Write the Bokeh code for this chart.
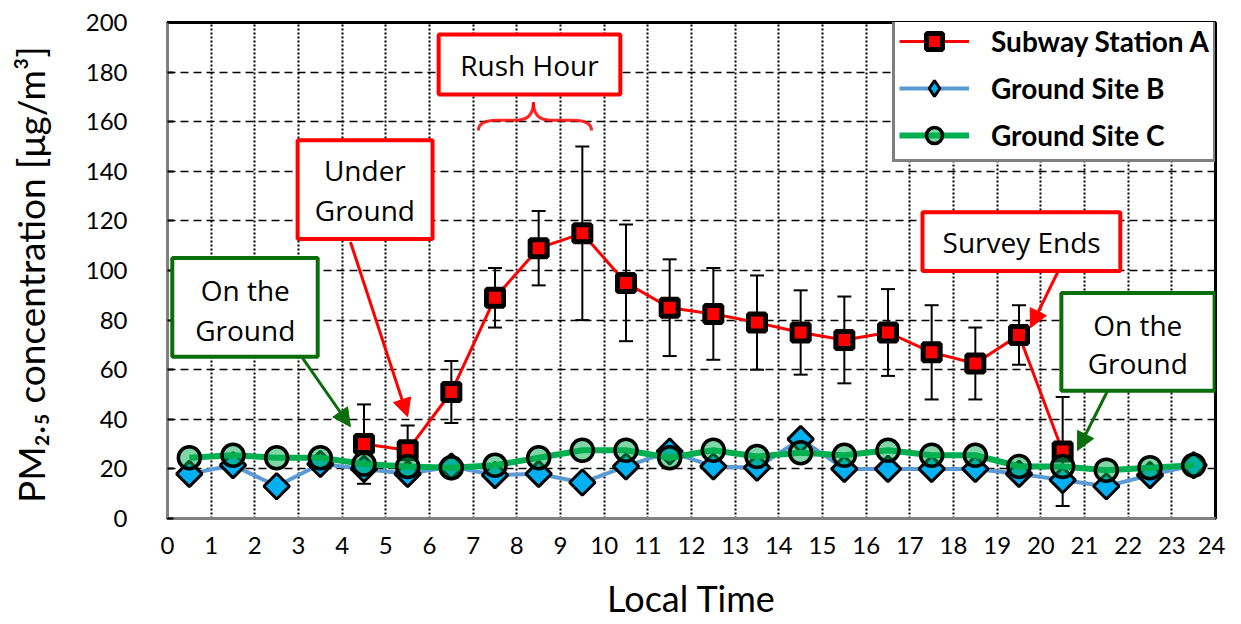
import numpy as np
from bokeh.plotting import figure
from bokeh.models import (ColumnDataSource, Whisker, TeeHead, Legend, LegendItem,
                          BoxAnnotation, Label, Arrow, NormalHead, FixedTicker)
from bokeh.embed import file_html
from bokeh.resources import INLINE

# ---------------- data ----------------
hours_a = [4.5, 5.5, 6.5, 7.5, 8.5, 9.5, 10.5, 11.5, 12.5, 13.5, 14.5, 15.5,
           16.5, 17.5, 18.5, 19.5, 20.5]
subway_a = [30, 27.5, 51, 89, 109, 115, 95, 85, 82.5, 79, 75, 72, 75, 67, 62.5, 74, 27]
subway_err = [16, 10, 12.5, 12, 15, 35, 23.5, 19.5, 18.5, 19, 17, 17.5, 17.5, 19, 14.5, 12, 22]

hours_bc = [0.5, 1.5, 2.5, 3.5, 4.5, 5.5, 6.5, 7.5, 8.5, 9.5, 10.5, 11.5,
            12.5, 13.5, 14.5, 15.5, 16.5, 17.5, 18.5, 19.5, 20.5, 21.5, 22.5, 23.5]
site_b = [18, 21.5, 13, 22, 20, 18, 21, 17.5, 18, 14.5, 21, 27,
          21, 20.5, 32, 20, 20, 20, 20, 18, 15.5, 13, 17.5, 21.5]
site_c = [24.5, 25.5, 24.5, 24.5, 22, 21, 20.5, 21.5, 24.5, 27.5, 27.5, 24.5,
          27.5, 25, 26.5, 25.5, 27.5, 25.5, 25.5, 21, 21, 19.5, 20.5, 21.5]

x_ticks = list(range(0, 25))
y_ticks = list(range(0, 201, 20))

series_names = ["Subway Station A", "Ground Site B", "Ground Site C"]
y_title = "PM\u2082.\u2085  concentration [\u03bcg/m\u00b3]"
x_title = "Local Time"

# ---------------- main figure ----------------
p = figure(width=1225, height=622, x_range=(0, 24), y_range=(0, 200),
           output_backend="svg", toolbar_location=None,
           min_border_left=167, min_border_top=22, min_border_right=10, min_border_bottom=103,
           background_fill_color="white", border_fill_color="white")

p.outline_line_color = "black"
p.outline_line_width = 3
p.outline_line_alpha = 1

# grids
p.xgrid.ticker = FixedTicker(ticks=x_ticks)
p.ygrid.ticker = FixedTicker(ticks=y_ticks)
p.xgrid.grid_line_color = "black"
p.xgrid.grid_line_dash = "2 2"
p.xgrid.grid_line_width = 2
p.ygrid.grid_line_color = "black"
p.ygrid.grid_line_dash = "8 5"
p.ygrid.grid_line_width = 1.5

# axes
p.xaxis.ticker = FixedTicker(ticks=x_ticks)
p.yaxis.ticker = FixedTicker(ticks=y_ticks)
for ax in (p.xaxis[0], p.yaxis[0]):
    ax.axis_line_color = "#808080"
    ax.axis_line_width = 3
    ax.major_label_text_font = "Lato"
    ax.major_label_text_font_size = "24px"
    ax.major_label_text_color = "black"
    ax.minor_tick_line_color = None
    ax.axis_label_text_font = "Lato"
    ax.axis_label_text_font_style = "normal"
    ax.axis_label_text_color = "black"
p.xaxis.major_tick_line_color = None
p.xaxis.major_label_standoff = 12
p.xaxis.axis_label = x_title
p.xaxis.axis_label_text_font_size = "36px"
p.xaxis.axis_label_standoff = 19

p.yaxis.major_tick_in = 6
p.yaxis.major_tick_out = 0
p.yaxis.major_tick_line_color = "black"
p.yaxis.major_tick_line_width = 2
p.yaxis.major_label_standoff = 40
p.yaxis.axis_label = y_title
p.yaxis.axis_label_text_font_size = "37px"
p.yaxis.axis_label_standoff = 30

# ---------------- series ----------------
src_a = ColumnDataSource(dict(
    x=hours_a, y=subway_a,
    upper=[v + e for v, e in zip(subway_a, subway_err)],
    lower=[v - e for v, e in zip(subway_a, subway_err)]))

line_a = p.line('x', 'y', source=src_a, line_color="red", line_width=3)
whisk = Whisker(base='x', upper='upper', lower='lower', source=src_a,
                line_color="black", line_width=2,
                upper_head=TeeHead(size=14, line_color="black", line_width=2),
                lower_head=TeeHead(size=14, line_color="black", line_width=2))
p.add_layout(whisk)
mark_a = p.scatter('x', 'y', source=src_a, marker="square", size=17,
                   fill_color="red", line_color="black", line_width=5)

src_b = ColumnDataSource(dict(x=hours_bc, y=site_b))
line_b = p.line('x', 'y', source=src_b, line_color="#5B9BD5", line_width=4)
mark_b = p.scatter('x', 'y', source=src_b, marker="square", angle=np.pi / 4, size=18,
                   fill_color="#00B0F0", line_color="black", line_width=3)
# hidden proxy used only for the legend sample (legend glyphs ignore angle)
leg_b = p.scatter('x', 'y', source=src_b, marker="diamond", size=20, visible=False,
                  fill_color="#00B0F0", line_color="black", line_width=3)

src_c = ColumnDataSource(dict(x=hours_bc, y=site_c))
line_c = p.line('x', 'y', source=src_c, line_color="#00B050", line_width=6)
mark_c = p.scatter('x', 'y', source=src_c, marker="circle", size=22,
                   fill_color="#00B050", fill_alpha=0.5, line_color="black", line_width=3.5)

legend = Legend(items=[
    LegendItem(label=series_names[0], renderers=[line_a, mark_a]),
    LegendItem(label=series_names[1], renderers=[line_b, leg_b]),
    LegendItem(label=series_names[2], renderers=[line_c, mark_c]),
], location=(725, 356), margin=0, padding=4, spacing=7,
    glyph_width=70, glyph_height=40, label_height=40, label_standoff=22,
    border_line_color="black", border_line_width=3,
    background_fill_color="white", background_fill_alpha=1,
    label_text_font="Lato", label_text_font_style="bold", label_text_font_size="28px",
    label_text_color="black")
p.add_layout(legend)

# ---------------- callouts ----------------
RED = "#FF0000"
GREEN = "#0A6E0A"
CFONT = "Open Sans"
CSIZE = "28px"

def callout(left, right, bottom, top, color, lines, ys, xc):
    p.add_layout(BoxAnnotation(left=left, right=right, bottom=bottom, top=top,
                               fill_color="white", fill_alpha=1,
                               line_color=color, line_width=4, line_alpha=1))
    for t, yy in zip(lines, ys):
        p.add_layout(Label(x=xc, y=yy, text=t, text_align="center", text_baseline="middle",
                           text_font=CFONT, text_font_size=CSIZE, text_color="black"))

def arrow(x0, y0, x1, y1, color):
    p.add_layout(Arrow(x_start=x0, y_start=y0, x_end=x1, y_end=y1,
                       line_color=color, line_width=3,
                       end=NormalHead(size=18, fill_color=color, line_color=color)))

callout(6.21, 10.37, 171.0, 195.2, RED, ["Rush Hour"], [183.0], 8.29)
callout(2.98, 6.07, 112.7, 152.5, RED, ["Under", "Ground"], [140.4, 124.3], 4.52)
callout(0.11, 3.44, 65.2, 105.0, GREEN, ["On the", "Ground"], [92.2, 76.1], 1.78)
callout(17.29, 21.82, 99.8, 123.5, RED, ["Survey Ends"], [111.6], 19.56)
callout(20.47, 23.98, 51.5, 90.9, GREEN, ["On the", "Ground"], [78.1, 62.8], 22.22)

arrow(4.19, 111.5, 5.50, 41.0, RED)
arrow(3.09, 64.8, 4.19, 37.0, GREEN)
arrow(20.40, 99.8, 19.76, 76.9, RED)
arrow(21.53, 51.5, 20.84, 27.4, GREEN)

# curly brace under "Rush Hour"
bx = dict(x0=[7.12, 8.00, 8.38, 9.28], y0=[156.5, 160.6, 167.8, 160.6],
          x1=[7.55, 8.38, 8.76, 9.71], y1=[160.6, 167.8, 160.6, 156.5],
          cx=[7.12, 8.38, 8.38, 9.71], cy=[160.6, 160.6, 160.6, 160.6])
p.quadratic(x0='x0', y0='y0', x1='x1', y1='y1', cx='cx', cy='cy',
            source=ColumnDataSource(bx), line_color=RED, line_width=3, line_alpha=0.85)
p.segment(x0=[7.55, 8.76], y0=[160.6, 160.6], x1=[8.00, 9.28], y1=[160.6, 160.6],
          line_color=RED, line_width=3, line_alpha=0.85)

open("out.html", "w").write(file_html(p, INLINE))
